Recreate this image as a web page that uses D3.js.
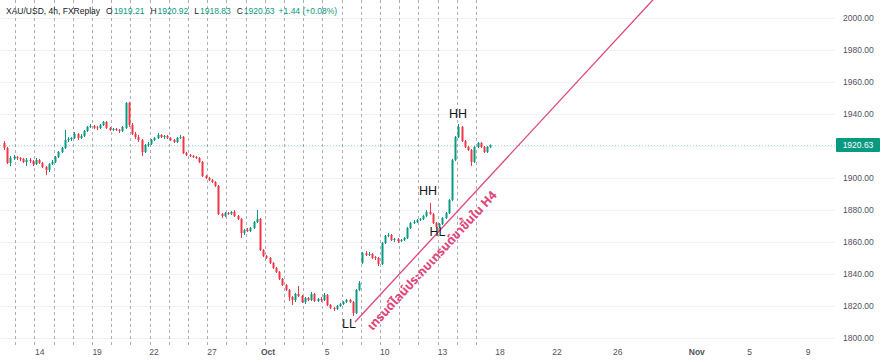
<!DOCTYPE html>
<html><head><meta charset="utf-8">
<script src="https://cdn.jsdelivr.net/npm/d3@7"></script>
<style>
html,body{margin:0;padding:0;background:#fff;}
svg{display:block;font-family:"Liberation Sans",Arial,sans-serif;}
</style></head>
<body><svg id="c" width="884" height="362"></svg>
<script>
// ---- data: 4h candles [open, high, low, close] ----
const opens = [1921.9,1918.75,1909.4,1912.5,1913.1,1912.5,1911.9,1910.0,1911.25,1910.6,1908.75,1911.25,1909.4,1906.9,1905.0,1908.75,1910.0,1913.1,1916.25,1918.75,
1923.75,1924.4,1925.0,1927.5,1925.0,1926.25,1929.4,1931.9,1932.5,1931.6,1931.25,1933.1,1935.0,1931.25,1930.0,1930.6,1930.0,1929.4,1931.25,1946.9,
1933.1,1927.5,1925.6,1923.75,1916.25,1920.6,1921.25,1923.75,1925.0,1926.9,1925.6,1926.25,1925.0,1923.75,1922.5,1925.0,1925.6,1915.6,1914.4,1913.75,
1913.1,1912.5,1910.0,1901.25,1900.0,1898.75,1897.5,1895.0,1877.5,1876.25,1878.1,1877.5,1878.75,1876.25,1874.4,1865.6,1867.5,1866.9,1868.75,1872.5,
1874.4,1855.0,1851.25,1850.0,1846.9,1843.75,1841.25,1836.9,1833.1,1830.0,1825.6,1823.75,1827.5,1826.25,1822.5,1825.0,1823.75,1827.5,1823.1,1824.4,
1823.75,1826.9,1820.6,1818.75,1818.1,1820.0,1821.25,1822.5,1823.75,1822.5,1815.6,1830.0,1846.9,1853.1,1851.9,1852.5,1850.6,1850.0,1846.25,1859.4,
1863.75,1864.4,1861.25,1861.9,1860.6,1861.25,1862.5,1868.75,1871.9,1872.5,1873.75,1874.4,1876.25,1878.75,1877.5,1871.9,1869.4,1871.25,1875.0,1878.1,
1886.25,1911.25,1925.6,1931.9,1923.1,1919.4,1917.5,1910.0,1919.4,1921.9,1919.4,1916.25,1919.21];
const highs = [1923.1,1919.4,1913.75,1914.4,1913.75,1913.1,1912.5,1912.5,1912.5,1911.25,1912.5,1911.9,1910.0,1907.5,1909.4,1911.25,1913.75,1916.9,1919.4,1930.0,
1925.6,1925.6,1928.75,1928.1,1927.5,1930.0,1932.5,1933.75,1933.1,1932.5,1933.75,1935.6,1935.6,1931.9,1931.25,1931.25,1930.6,1932.5,1947.5,1947.5,
1934.4,1928.75,1926.9,1924.4,1921.25,1922.5,1924.4,1925.6,1928.1,1927.5,1926.9,1926.9,1925.6,1924.4,1925.6,1926.9,1926.25,1916.25,1915.0,1914.4,
1913.75,1913.1,1910.6,1901.9,1900.6,1899.4,1898.1,1895.6,1878.1,1878.75,1878.75,1879.4,1880.0,1876.9,1875.0,1868.1,1868.75,1869.4,1873.1,1880.0,
1875.0,1855.6,1851.9,1850.6,1847.5,1844.4,1841.9,1837.5,1833.75,1830.6,1826.25,1828.1,1832.5,1826.9,1825.6,1825.6,1828.75,1828.1,1825.0,1825.6,
1828.1,1827.5,1821.25,1819.4,1820.6,1821.9,1823.1,1824.4,1824.4,1823.1,1830.6,1835.6,1853.75,1854.4,1853.75,1853.1,1851.25,1850.6,1860.0,1864.4,
1865.6,1865.0,1862.5,1862.5,1861.9,1863.1,1869.4,1872.5,1873.75,1874.4,1875.0,1876.9,1880.0,1884.4,1878.1,1872.5,1871.9,1875.6,1878.75,1886.9,
1911.9,1926.25,1933.75,1932.5,1923.75,1920.0,1918.1,1920.0,1922.5,1922.5,1920.0,1920.0,1920.92];
const lows = [1917.5,1908.75,1907.5,1911.25,1911.25,1910.6,1909.4,1907.5,1909.4,1907.5,1908.1,1908.75,1906.25,1901.9,1903.75,1908.1,1909.4,1912.5,1915.6,1918.1,
1922.5,1923.1,1924.4,1923.75,1924.4,1925.6,1928.75,1931.25,1930.6,1930.0,1930.6,1932.5,1930.6,1929.4,1929.4,1929.4,1928.1,1928.75,1930.6,1931.9,
1926.9,1924.4,1922.5,1913.75,1915.6,1919.4,1920.6,1923.1,1924.4,1925.0,1924.4,1924.4,1923.1,1921.9,1921.9,1924.4,1915.0,1913.75,1913.1,1912.5,
1911.9,1909.4,1900.6,1899.4,1898.1,1896.9,1894.4,1876.9,1875.0,1875.6,1876.9,1876.9,1875.6,1873.75,1862.5,1864.4,1866.25,1866.25,1868.1,1871.9,
1854.4,1850.6,1849.4,1846.25,1843.1,1840.6,1836.25,1832.5,1829.4,1823.1,1820.6,1822.5,1825.6,1821.9,1821.25,1823.1,1823.1,1822.5,1822.5,1822.5,
1823.1,1820.0,1818.1,1816.9,1817.5,1819.4,1820.6,1821.9,1821.9,1813.75,1815.0,1829.4,1846.25,1851.25,1851.25,1849.4,1848.75,1845.0,1845.6,1858.75,
1863.1,1860.6,1860.0,1859.4,1860.0,1860.6,1861.9,1868.1,1871.25,1871.9,1873.1,1873.75,1875.6,1876.9,1871.25,1868.1,1868.75,1870.6,1874.4,1877.5,
1885.6,1910.6,1925.0,1922.5,1918.75,1916.9,1907.5,1909.4,1918.75,1918.75,1915.6,1915.6,1918.83];
const closes = [1918.75,1909.4,1912.5,1913.1,1912.5,1911.9,1910.0,1911.25,1910.6,1908.75,1911.25,1909.4,1906.9,1905.0,1908.75,1910.0,1913.1,1916.25,1918.75,1923.75,
1924.4,1925.0,1927.5,1925.0,1926.25,1929.4,1931.9,1932.5,1931.25,1931.25,1933.1,1935.0,1931.25,1930.0,1930.6,1930.0,1929.4,1931.9,1946.9,1933.1,
1927.5,1925.6,1923.75,1916.25,1920.6,1921.25,1923.75,1925.0,1926.9,1925.6,1926.25,1925.0,1923.75,1922.5,1925.0,1925.6,1915.6,1914.4,1913.75,1913.1,
1912.5,1910.0,1901.25,1900.0,1898.75,1897.5,1895.0,1877.5,1876.25,1878.1,1877.5,1878.75,1876.25,1874.4,1865.6,1867.5,1866.9,1868.75,1872.5,1874.4,
1855.0,1851.25,1850.0,1846.9,1843.75,1841.25,1836.9,1833.1,1830.0,1825.6,1823.75,1827.5,1826.25,1822.5,1825.0,1823.75,1827.5,1823.1,1824.4,1823.75,
1826.9,1820.6,1818.75,1818.1,1820.0,1821.25,1822.5,1823.75,1822.5,1815.6,1830.0,1834.4,1853.1,1851.9,1852.5,1850.0,1850.0,1846.25,1859.4,1863.75,
1864.4,1861.25,1861.9,1860.6,1861.25,1862.5,1868.75,1871.9,1872.5,1873.75,1874.4,1876.25,1878.75,1877.5,1871.9,1869.4,1871.25,1875.0,1878.1,1886.25,
1911.25,1925.6,1931.9,1923.1,1919.4,1917.5,1910.0,1919.4,1921.9,1919.4,1916.25,1919.4,1920.63];

const priceTicks = [1800,1820,1840,1860,1880,1900,1920,1940,1960,1980,2000];
const timeLabels = ["14","19","22","27","Oct","5","10","13","18","22","26","Nov","5","9"];
const timeLabelBars = [11.2,29.1,46.9,65,82.5,101,119,137,155,172.8,191.8,216.5,233,251.3];
const monthLabels = ["Oct","Nov"];
const daySeparatorBars = [3.5,9.5,15.5,21.5,27.5,33.5,39.5,45.5,51.5,57.5,63.5,69.5,75.5,81.5,87.5,93.5,99.5,105.5,111.5,117.5,123.5,129.5,135.5,141.5,147.5];
const lastPrice = 1920.63;
const header = {sym:"XAU/USD, 4h, FXReplay", o:"1919.21", h:"1920.92", l:"1918.83", c:"1920.63", chg:"+1.44 (+0.08%)"};
// swing labels: [bar, price, text]
const swings = [[107.8,1806.5,"LL"],[132.5,1889.5,"HH"],[135.5,1863.5,"HL"],[141.9,1937.5,"HH"]];
// trendline anchor points [bar, price]
const trend = [[109.7,1810.0],[201.9,2009.4]];
const trendText = "เทรนด์ไลน์ประกบเทรนด์ขาขึ้นใน H4";

// ---- drawing ----
const W=884,H=362, plotR=835, axisY=345;
const svg=d3.select("#c");
const x=d3.scaleLinear().domain([0,152]).range([4,490.4]);
const y=d3.scaleLinear().domain([1800,2000]).range([338,18]);
const green="#089981", red="#f23645";

svg.append("defs").append("clipPath").attr("id","clip")
 .append("rect").attr("x",0).attr("y",0).attr("width",plotR).attr("height",axisY);

// horizontal grid
svg.append("g").selectAll("line").data(priceTicks).join("line")
 .attr("x1",0).attr("x2",plotR).attr("y1",d=>y(d)+.5).attr("y2",d=>y(d)+.5)
 .attr("stroke","#f0f3fa").attr("stroke-width",1);

// day separators (dashed)
svg.append("g").selectAll("line").data(daySeparatorBars).join("line")
 .attr("x1",d=>Math.round(x(d))+.5).attr("x2",d=>Math.round(x(d))+.5)
 .attr("y1",0).attr("y2",axisY)
 .attr("stroke","#8a8e99").attr("stroke-width",1).attr("stroke-dasharray","3,3").attr("opacity",0.7);

// last price dotted line
svg.append("line").attr("x1",0).attr("x2",plotR).attr("y1",Math.round(y(lastPrice))+.5).attr("y2",Math.round(y(lastPrice))+.5)
 .attr("stroke",green).attr("stroke-width",1).attr("stroke-dasharray","1,2").attr("opacity",0.35);

// candles
const idx=d3.range(closes.length);
const cg=svg.append("g");
cg.selectAll("line").data(idx).join("line")
 .attr("x1",i=>Math.round(x(i))+.5).attr("x2",i=>Math.round(x(i))+.5)
 .attr("y1",i=>y(highs[i])).attr("y2",i=>y(lows[i]))
 .attr("stroke",i=>closes[i]>=opens[i]?green:red).attr("stroke-width",1);
cg.selectAll("rect").data(idx).join("rect")
 .attr("x",i=>Math.round(x(i))-0.5).attr("width",2)
 .attr("y",i=>y(Math.max(opens[i],closes[i])))
 .attr("height",i=>Math.max(1,Math.abs(y(opens[i])-y(closes[i]))))
 .attr("fill",i=>closes[i]>=opens[i]?green:red);

// trendline
const tl=svg.append("g").attr("clip-path","url(#clip)");
const p0=[x(trend[0][0]),y(trend[0][1])], p1=[x(trend[1][0]),y(trend[1][1])];
const dx=p1[0]-p0[0], dy=p1[1]-p0[1];
tl.append("line").attr("x1",p0[0]).attr("y1",p0[1]).attr("x2",p0[0]+dx*1.2).attr("y2",p0[1]+dy*1.2)
 .attr("stroke","#e0457b").attr("stroke-width",1.3);
const ang=Math.atan2(dy,dx)*180/Math.PI;
const len=Math.hypot(dx,dy), ux=dx/len, uy=dy/len;
const nx=-uy, ny=ux; // normal (down-right)
const tx=p0[0]+ux*5+nx*19, ty=p0[1]+uy*5+ny*19;
svg.append("text").attr("transform",`translate(${tx},${ty}) rotate(${ang})`)
 .attr("fill","#e0457b").attr("font-size",12.5).attr("font-weight","bold")
 .attr("font-family","'Noto Sans Thai','Noto Sans','DejaVu Sans',sans-serif")
 .text(trendText);

// swing labels
svg.append("g").selectAll("text").data(swings).join("text")
 .attr("x",d=>x(d[0])).attr("y",d=>y(d[1])).attr("text-anchor","middle")
 .attr("font-size",12.5).attr("fill","#131722").text(d=>d[2]);

// right axis
const ya=svg.append("g");
ya.selectAll("text").data(priceTicks).join("text")
 .attr("x",843).attr("y",d=>y(d)+3).attr("font-size",8.5).attr("fill","#50535e")
 .text(d=>d3.format(".2f")(d));
ya.append("rect").attr("x",836).attr("y",y(lastPrice)-7).attr("width",44).attr("height",14).attr("rx",1).attr("fill",green);
ya.append("text").attr("x",858).attr("y",y(lastPrice)+3).attr("text-anchor","middle")
 .attr("font-size",8.5).attr("fill","#fff").text(d3.format(".2f")(lastPrice));

// bottom axis
svg.append("g").selectAll("text").data(timeLabels).join("text")
 .attr("x",(d,i)=>x(timeLabelBars[i])).attr("y",355).attr("text-anchor","middle")
 .attr("font-size",8.5).attr("fill","#50535e")
 .attr("font-weight",d=>monthLabels.includes(d)?"bold":"normal").text(d=>d);

// header
const hd=svg.append("text").attr("x",6).attr("y",14).attr("font-size",8.5).attr("fill","#131722");
hd.append("tspan").text(header.sym);
[["O",header.o],["H",header.h],["L",header.l],["C",header.c]].forEach(([k,v])=>{
  hd.append("tspan").attr("dx",6).text(k);
  hd.append("tspan").attr("dx",1).attr("fill",green).text(v);
});
hd.append("tspan").attr("dx",4).attr("fill",green).text(header.chg);
</script></body></html>
